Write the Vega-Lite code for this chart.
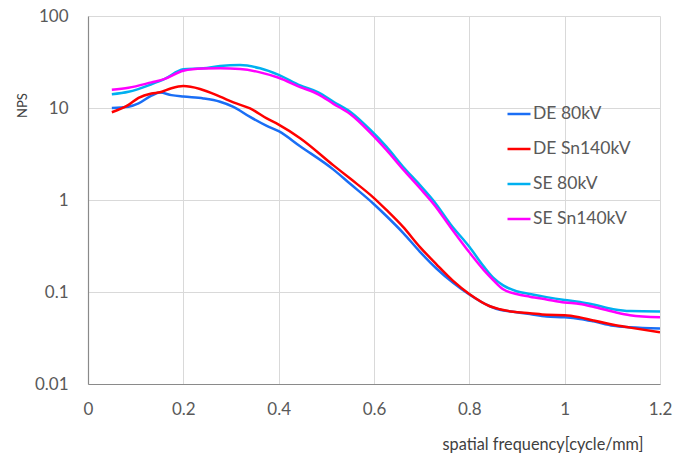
{
  "$schema": "https://vega.github.io/schema/vega-lite/v6.json",
  "width": 572,
  "height": 368,
  "autosize": {"type": "none"},
  "padding": {"left": 88, "top": 16, "right": 29, "bottom": 77},
  "background": "white",
  "config": {
    "view": {"stroke": null},
    "font": "Lato"
  },
  "data": {
    "values": [
      {"series": "DE 80kV", "f": 0.05, "nps": 10.0},
      {"series": "DE 80kV", "f": 0.085, "nps": 10.3},
      {"series": "DE 80kV", "f": 0.106, "nps": 11.2},
      {"series": "DE 80kV", "f": 0.133, "nps": 13.6},
      {"series": "DE 80kV", "f": 0.151, "nps": 14.7},
      {"series": "DE 80kV", "f": 0.175, "nps": 13.8},
      {"series": "DE 80kV", "f": 0.2, "nps": 13.3},
      {"series": "DE 80kV", "f": 0.242, "nps": 12.7},
      {"series": "DE 80kV", "f": 0.277, "nps": 11.7},
      {"series": "DE 80kV", "f": 0.305, "nps": 10.3},
      {"series": "DE 80kV", "f": 0.34, "nps": 8.0},
      {"series": "DE 80kV", "f": 0.375, "nps": 6.4},
      {"series": "DE 80kV", "f": 0.4, "nps": 5.6},
      {"series": "DE 80kV", "f": 0.445, "nps": 3.84},
      {"series": "DE 80kV", "f": 0.515, "nps": 2.14},
      {"series": "DE 80kV", "f": 0.55, "nps": 1.5},
      {"series": "DE 80kV", "f": 0.6, "nps": 0.9},
      {"series": "DE 80kV", "f": 0.626, "nps": 0.67},
      {"series": "DE 80kV", "f": 0.661, "nps": 0.44},
      {"series": "DE 80kV", "f": 0.696, "nps": 0.275},
      {"series": "DE 80kV", "f": 0.731, "nps": 0.18},
      {"series": "DE 80kV", "f": 0.766, "nps": 0.126},
      {"series": "DE 80kV", "f": 0.8, "nps": 0.094},
      {"series": "DE 80kV", "f": 0.843, "nps": 0.07},
      {"series": "DE 80kV", "f": 0.864, "nps": 0.064},
      {"series": "DE 80kV", "f": 0.892, "nps": 0.061},
      {"series": "DE 80kV", "f": 0.927, "nps": 0.0575},
      {"series": "DE 80kV", "f": 0.962, "nps": 0.054},
      {"series": "DE 80kV", "f": 1.0, "nps": 0.053},
      {"series": "DE 80kV", "f": 1.032, "nps": 0.051},
      {"series": "DE 80kV", "f": 1.06, "nps": 0.048},
      {"series": "DE 80kV", "f": 1.102, "nps": 0.043},
      {"series": "DE 80kV", "f": 1.137, "nps": 0.0414},
      {"series": "DE 80kV", "f": 1.2, "nps": 0.04},

      {"series": "DE Sn140kV", "f": 0.05, "nps": 9.0},
      {"series": "DE Sn140kV", "f": 0.085, "nps": 10.8},
      {"series": "DE Sn140kV", "f": 0.106, "nps": 12.9},
      {"series": "DE Sn140kV", "f": 0.133, "nps": 14.4},
      {"series": "DE Sn140kV", "f": 0.151, "nps": 14.8},
      {"series": "DE Sn140kV", "f": 0.175, "nps": 16.4},
      {"series": "DE Sn140kV", "f": 0.2, "nps": 17.3},
      {"series": "DE Sn140kV", "f": 0.235, "nps": 16.1},
      {"series": "DE Sn140kV", "f": 0.277, "nps": 13.3},
      {"series": "DE Sn140kV", "f": 0.305, "nps": 11.5},
      {"series": "DE Sn140kV", "f": 0.34, "nps": 9.9},
      {"series": "DE Sn140kV", "f": 0.375, "nps": 7.7},
      {"series": "DE Sn140kV", "f": 0.4, "nps": 6.6},
      {"series": "DE Sn140kV", "f": 0.445, "nps": 4.7},
      {"series": "DE Sn140kV", "f": 0.515, "nps": 2.38},
      {"series": "DE Sn140kV", "f": 0.55, "nps": 1.71},
      {"series": "DE Sn140kV", "f": 0.6, "nps": 1.05},
      {"series": "DE Sn140kV", "f": 0.626, "nps": 0.78},
      {"series": "DE Sn140kV", "f": 0.661, "nps": 0.51},
      {"series": "DE Sn140kV", "f": 0.696, "nps": 0.31},
      {"series": "DE Sn140kV", "f": 0.731, "nps": 0.2},
      {"series": "DE Sn140kV", "f": 0.766, "nps": 0.132},
      {"series": "DE Sn140kV", "f": 0.8, "nps": 0.095},
      {"series": "DE Sn140kV", "f": 0.843, "nps": 0.07},
      {"series": "DE Sn140kV", "f": 0.864, "nps": 0.065},
      {"series": "DE Sn140kV", "f": 0.892, "nps": 0.061},
      {"series": "DE Sn140kV", "f": 0.927, "nps": 0.0588},
      {"series": "DE Sn140kV", "f": 0.962, "nps": 0.0565},
      {"series": "DE Sn140kV", "f": 1.0, "nps": 0.056},
      {"series": "DE Sn140kV", "f": 1.032, "nps": 0.053},
      {"series": "DE Sn140kV", "f": 1.06, "nps": 0.049},
      {"series": "DE Sn140kV", "f": 1.102, "nps": 0.044},
      {"series": "DE Sn140kV", "f": 1.137, "nps": 0.041},
      {"series": "DE Sn140kV", "f": 1.2, "nps": 0.0365},

      {"series": "SE 80kV", "f": 0.05, "nps": 14.1},
      {"series": "SE 80kV", "f": 0.085, "nps": 15.0},
      {"series": "SE 80kV", "f": 0.133, "nps": 18.1},
      {"series": "SE 80kV", "f": 0.161, "nps": 20.7},
      {"series": "SE 80kV", "f": 0.2, "nps": 26.3},
      {"series": "SE 80kV", "f": 0.242, "nps": 27.0},
      {"series": "SE 80kV", "f": 0.277, "nps": 28.6},
      {"series": "SE 80kV", "f": 0.319, "nps": 29.3},
      {"series": "SE 80kV", "f": 0.361, "nps": 27.0},
      {"series": "SE 80kV", "f": 0.4, "nps": 22.9},
      {"series": "SE 80kV", "f": 0.445, "nps": 17.6},
      {"series": "SE 80kV", "f": 0.483, "nps": 14.8},
      {"series": "SE 80kV", "f": 0.515, "nps": 11.7},
      {"series": "SE 80kV", "f": 0.55, "nps": 9.1},
      {"series": "SE 80kV", "f": 0.592, "nps": 5.8},
      {"series": "SE 80kV", "f": 0.626, "nps": 3.8},
      {"series": "SE 80kV", "f": 0.661, "nps": 2.3},
      {"series": "SE 80kV", "f": 0.696, "nps": 1.46},
      {"series": "SE 80kV", "f": 0.727, "nps": 0.95},
      {"series": "SE 80kV", "f": 0.76, "nps": 0.55},
      {"series": "SE 80kV", "f": 0.8, "nps": 0.31},
      {"series": "SE 80kV", "f": 0.83, "nps": 0.19},
      {"series": "SE 80kV", "f": 0.85, "nps": 0.143},
      {"series": "SE 80kV", "f": 0.871, "nps": 0.118},
      {"series": "SE 80kV", "f": 0.899, "nps": 0.102},
      {"series": "SE 80kV", "f": 0.927, "nps": 0.095},
      {"series": "SE 80kV", "f": 0.962, "nps": 0.088},
      {"series": "SE 80kV", "f": 1.0, "nps": 0.082},
      {"series": "SE 80kV", "f": 1.032, "nps": 0.078},
      {"series": "SE 80kV", "f": 1.06, "nps": 0.073},
      {"series": "SE 80kV", "f": 1.102, "nps": 0.065},
      {"series": "SE 80kV", "f": 1.137, "nps": 0.062},
      {"series": "SE 80kV", "f": 1.2, "nps": 0.0615},

      {"series": "SE Sn140kV", "f": 0.05, "nps": 15.8},
      {"series": "SE Sn140kV", "f": 0.085, "nps": 16.6},
      {"series": "SE Sn140kV", "f": 0.133, "nps": 19.0},
      {"series": "SE Sn140kV", "f": 0.161, "nps": 20.7},
      {"series": "SE Sn140kV", "f": 0.2, "nps": 25.4},
      {"series": "SE Sn140kV", "f": 0.242, "nps": 26.8},
      {"series": "SE Sn140kV", "f": 0.277, "nps": 27.0},
      {"series": "SE Sn140kV", "f": 0.319, "nps": 26.5},
      {"series": "SE Sn140kV", "f": 0.361, "nps": 24.4},
      {"series": "SE Sn140kV", "f": 0.4, "nps": 21.3},
      {"series": "SE Sn140kV", "f": 0.445, "nps": 16.9},
      {"series": "SE Sn140kV", "f": 0.483, "nps": 14.1},
      {"series": "SE Sn140kV", "f": 0.515, "nps": 11.1},
      {"series": "SE Sn140kV", "f": 0.55, "nps": 8.6},
      {"series": "SE Sn140kV", "f": 0.592, "nps": 5.4},
      {"series": "SE Sn140kV", "f": 0.626, "nps": 3.5},
      {"series": "SE Sn140kV", "f": 0.661, "nps": 2.15},
      {"series": "SE Sn140kV", "f": 0.696, "nps": 1.35},
      {"series": "SE Sn140kV", "f": 0.727, "nps": 0.88},
      {"series": "SE Sn140kV", "f": 0.76, "nps": 0.51},
      {"series": "SE Sn140kV", "f": 0.8, "nps": 0.27},
      {"series": "SE Sn140kV", "f": 0.83, "nps": 0.174},
      {"series": "SE Sn140kV", "f": 0.85, "nps": 0.135},
      {"series": "SE Sn140kV", "f": 0.871, "nps": 0.107},
      {"series": "SE Sn140kV", "f": 0.899, "nps": 0.095},
      {"series": "SE Sn140kV", "f": 0.927, "nps": 0.089},
      {"series": "SE Sn140kV", "f": 0.962, "nps": 0.083},
      {"series": "SE Sn140kV", "f": 1.0, "nps": 0.077},
      {"series": "SE Sn140kV", "f": 1.032, "nps": 0.074},
      {"series": "SE Sn140kV", "f": 1.06, "nps": 0.069},
      {"series": "SE Sn140kV", "f": 1.102, "nps": 0.061},
      {"series": "SE Sn140kV", "f": 1.137, "nps": 0.056},
      {"series": "SE Sn140kV", "f": 1.2, "nps": 0.053}
    ]
  },
  "mark": {"type": "line", "interpolate": "monotone", "strokeWidth": 2.5, "clip": true},
  "encoding": {
    "x": {
      "field": "f",
      "type": "quantitative",
      "scale": {"domain": [0, 1.2], "nice": false, "zero": false},
      "axis": {
        "values": [0, 0.2, 0.4, 0.6, 0.8, 1, 1.2],
        "format": "~g",
        "labelFlush": false,
        "title": "spatial frequency[cycle/mm]",
        "titleFont": "Lato",
        "titleFontSize": 16.3,
        "titleFontWeight": "normal",
        "titleColor": "#404040",
        "titleAnchor": "end",
        "titleAlign": "right",
        "titleX": 555,
        "titleY": 65,
        "titleBaseline": "alphabetic",
        "labelFont": "Lato",
        "labelFontSize": 17,
        "labelColor": "#595959",
        "labelPadding": 17,
        "ticks": false,
        "tickSize": 0,
        "domainColor": "#8a8a8a",
        "domainWidth": 1.2,
        "gridColor": "#d9d9d9",
        "gridWidth": 1
      }
    },
    "y": {
      "field": "nps",
      "type": "quantitative",
      "scale": {"type": "log", "domain": [0.01, 100], "nice": false},
      "axis": {
        "values": [0.01, 0.1, 1, 10, 100],
        "format": "~g",
        "labelFlush": false,
        "title": "NPS",
        "titleFont": "Lato",
        "titleFontSize": 13,
        "titleFontWeight": "normal",
        "titleColor": "#404040",
        "titleAngle": 270,
        "titleAlign": "center",
        "titleBaseline": "middle",
        "titleX": -66,
        "titleY": 89,
        "labelFont": "Lato",
        "labelFontSize": 17,
        "labelColor": "#595959",
        "labelPadding": 20,
        "ticks": false,
        "tickSize": 0,
        "domainColor": "#8a8a8a",
        "domainWidth": 1.2,
        "gridColor": "#d9d9d9",
        "gridWidth": 1
      }
    },
    "color": {
      "field": "series",
      "type": "nominal",
      "scale": {
        "domain": ["DE 80kV", "DE Sn140kV", "SE 80kV", "SE Sn140kV"],
        "range": ["#1a6ef5", "#ff0000", "#00b0f0", "#ff00ff"]
      },
      "legend": {
        "title": null,
        "orient": "none",
        "legendX": 418,
        "legendY": 85,
        "symbolType": "stroke",
        "symbolSize": 529,
        "symbolStrokeWidth": 2.5,
        "labelFont": "Lato",
        "labelFontSize": 17.5,
        "labelColor": "#595959",
        "labelOffset": 1,
        "rowPadding": 13,
        "padding": 0
      }
    }
  }
}
